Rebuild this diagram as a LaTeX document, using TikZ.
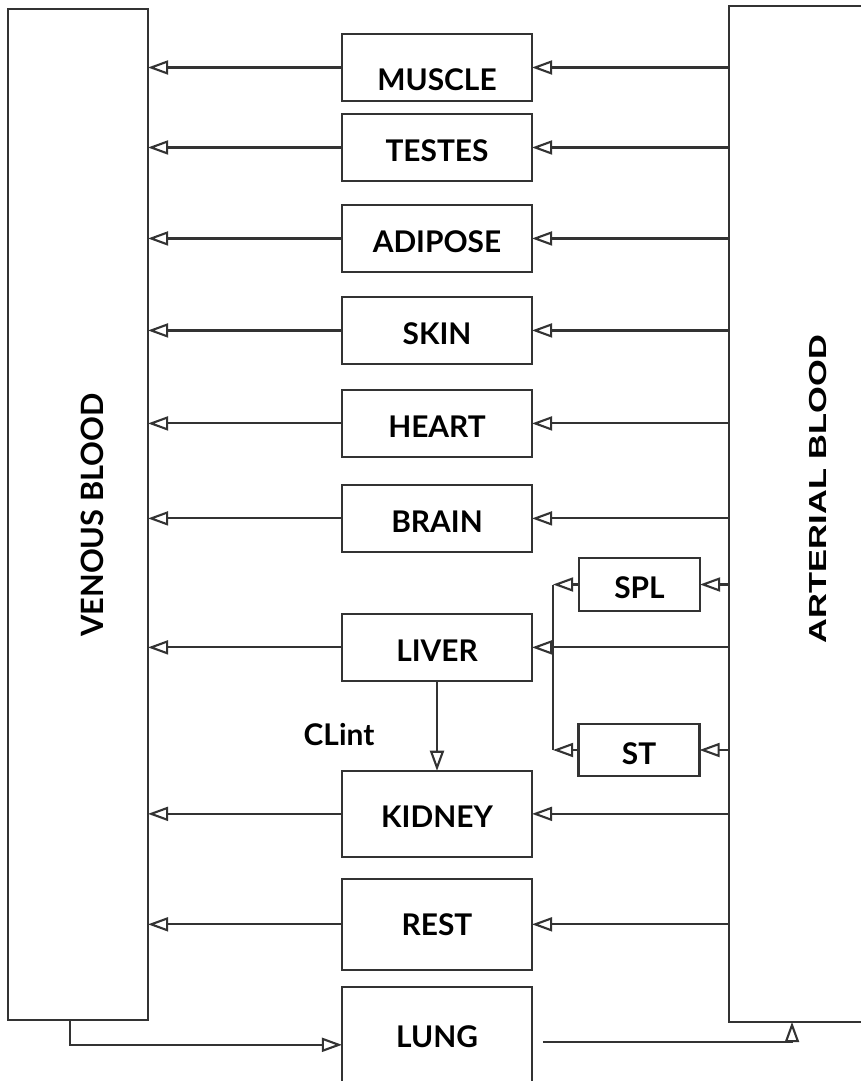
\documentclass[tikz,border=0pt]{standalone}
\usepackage{fontspec}
\setmainfont{Lato}
\newfontfamily\artfont{Liberation Sans}
\usetikzlibrary{positioning, arrows.meta}

\begin{document}
\begin{tikzpicture}[
        x=0.02cm, y=-0.02cm,
        line width=1.2pt, draw=black!80,
        organ/.style={draw, rectangle, outer sep=0pt, minimum width=3.8cm, minimum height=1.34cm, align=center,
            font=\fontsize{17}{19}\selectfont\bfseries, text height=16pt, text depth=0pt},
        small/.style={organ, minimum width=2.42cm, minimum height=1.05cm},
        blood/.style={draw, rectangle, outer sep=0pt, minimum width=2.8cm, minimum height=20.22cm},
        bloodlbl/.style={rotate=90, font=\fontsize{17.5}{19}\selectfont\bfseries},
        flow/.style={-{Triangle[open, length=11.5pt, width=8pt]}}
    ]
    \useasboundingbox (0,0) rectangle (861,1081);
    \clip (0,0) rectangle (861,1081);

    % blood pools
    \node[blood] (Ven) at (78,514.5) {};
    \node[bloodlbl] (VenLbl) at (92,515) {VENOUS BLOOD};
    \node[blood, minimum width=3.52cm, minimum height=20.32cm] (Art) at (817,514) {};
    \node[rotate=90, font=\artfont\fontsize{14}{16}\selectfont\bfseries] (ArtLbl) at (818,489) {\scalebox{1.4}[1]{ARTERIAL BLOOD}};

    % organs
    \node[organ, text height=26pt] (Muscle) at (437,67.5) {MUSCLE};
    \node[organ, below=0.26cm of Muscle] (Testes) {TESTES};
    \node[organ, below=0.48cm of Testes] (Adipose) {ADIPOSE};
    \node[organ, below=0.5cm of Adipose] (Skin) {SKIN};
    \node[organ, below=0.52cm of Skin] (Heart) {HEART};
    \node[organ, below=0.56cm of Heart] (Brain) {BRAIN};
    \node[organ, below=1.24cm of Brain] (Liver) {LIVER};
    \node[organ, below=1.8cm of Liver, minimum height=1.72cm] (Kidney) {KIDNEY};
    \node[organ, below=0.44cm of Kidney, minimum height=1.82cm, text height=13pt] (Rest) {REST};
    \node[organ, below=0.34cm of Rest, minimum height=1.96cm, text height=13pt] (Lung) {LUNG};

    \node[small] (Spl) at (639.5,584.5) {SPL};
    \node[small] (St) at (639,750) {ST};
    \node[font=\fontsize{17}{19}\selectfont\bfseries] (CLint) at (339,735) {CLint};

    \coordinate (SplIn) at (553,584.5);
    \coordinate (StIn) at (553,750);

    % flows
    \foreach \o in {Muscle,Testes,Adipose,Skin,Heart,Brain,Liver,Kidney,Rest} {
        \draw[flow] (\o.west) -- (\o.west -| Ven.east);
        \draw[flow] (\o.east -| Art.west) -- (\o.east);
    }
    \draw[flow] (Spl.east -| Art.west) -- (Spl.east);
    \draw[flow] (St.east -| Art.west) -- (St.east);
    \draw[flow] (Spl.west) -- (SplIn);
    \draw[flow] (St.west) -- (StIn);
    \draw (SplIn) -- (StIn);
    \draw[flow] (Liver.south) -- (Kidney.north);

    \draw[flow] ([xshift=-0.16cm]Ven.south) |- ([yshift=-0.18cm]Lung.west);
    \draw[flow] ([xshift=0.22cm, yshift=-0.12cm]Lung.east) -| ([xshift=-0.5cm]Art.south);

\end{tikzpicture}
\end{document}
